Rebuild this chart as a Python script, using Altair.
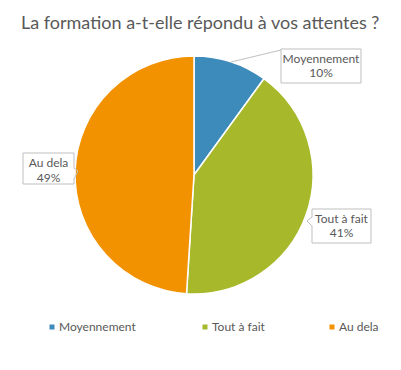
import altair as alt
import pandas as pd

# ---- data ----
categories = ["Moyennement", "Tout à fait", "Au dela"]
values = [10, 41, 49]
colors = ["#3D8BBA", "#A7B92A", "#F39200"]
title_text = "La formation a-t-elle répondu à vos attentes ?"

df = pd.DataFrame({"cat": categories, "value": values, "idx": list(range(len(categories)))})
total = sum(values)
pct = [f"{round(v * 100 / total)}%" for v in values]

FONT = "Lato"
TXT = "#595959"
BOX = "#BFBFBF"
OFF = 8  # page margin

def P(v):
    return alt.value(v - OFF)

pie = alt.Chart(df).mark_arc(radius=119, stroke="white", strokeWidth=1.5).encode(
    theta=alt.Theta("value:Q", stack=True),
    color=alt.Color(
        "cat:N",
        scale=alt.Scale(domain=categories, range=colors),
        sort=categories,
        legend=None,
    ),
    order=alt.Order("idx:Q"),
    x=P(194), y=P(175),
)

base = alt.Chart(pd.DataFrame({"a": [0]}))

title = base.mark_text(align="left", baseline="alphabetic", font=FONT, fontSize=18, color=TXT).encode(
    x=P(21), y=P(29), text=alt.value(title_text)
)

layers = [pie, title]

# callout boxes: (x0, y0, x1, y1, line1 baseline, line2 baseline)
boxes = [
    (281, 49, 361, 83, 63, 77),
    (312, 209, 371, 243, 223, 237),
    (23, 153, 74, 184, 167, 182),
]
for i, (x0, y0, x1, y1, b1, b2) in enumerate(boxes):
    layers.append(base.mark_rect(fill="white", stroke=BOX, strokeWidth=1).encode(
        x=P(x0), x2=P(x1), y=P(y0), y2=P(y1)))
    cx = (x0 + x1) / 2
    layers.append(base.mark_text(align="center", baseline="alphabetic", font=FONT, fontSize=12, color=TXT).encode(
        x=P(cx), y=P(b1), text=alt.value(categories[i])))
    layers.append(base.mark_text(align="center", baseline="alphabetic", font=FONT, fontSize=12, color=TXT).encode(
        x=P(cx), y=P(b2), text=alt.value(pct[i])))

def rule(x0, y0, x1, y1, color=BOX, w=1):
    return base.mark_rule(color=color, strokeWidth=w).encode(x=P(x0), x2=P(x1), y=P(y0), y2=P(y1))

# leader line for Moyennement
layers.append(rule(231, 62, 281, 50))
# Tout à fait pointer (left side)
layers.append(rule(312, 217.5, 312, 225.5, color="white", w=2))
layers.append(rule(312, 217, 307, 221))
layers.append(rule(307, 221, 312, 226))
# Au dela pointer (right side)
layers.append(rule(74, 168.5, 74, 178.5, color="white", w=2))
layers.append(rule(74, 168, 78, 171))
layers.append(rule(78, 171, 74, 179))

# manual legend
legend_x = [52, 205, 332]
for i, lx in enumerate(legend_x):
    layers.append(base.mark_square(size=25, color=colors[i], opacity=1).encode(x=P(lx), y=P(327)))
    layers.append(base.mark_text(align="left", baseline="alphabetic", font=FONT, fontSize=12, color=TXT).encode(
        x=P(lx + 7), y=P(331), text=alt.value(categories[i])))

chart = alt.layer(*layers).properties(
    width=385, height=354,
    autosize=alt.AutoSizeParams(type="none"),
    padding=0,
).configure_view(stroke=None)

chart.save("out.html", embed_options={"renderer": "svg", "actions": False})
